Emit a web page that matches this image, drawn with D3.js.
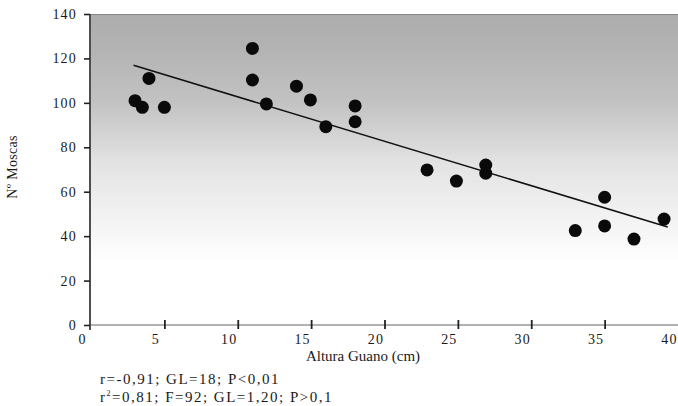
<!DOCTYPE html>
<html>
<head>
<meta charset="utf-8">
<script src="https://cdn.jsdelivr.net/npm/d3@7"></script>
<style>
  html, body { margin: 0; padding: 0; background: #fff; }
  svg { display: block; }
  text { font-family: "Liberation Serif", "DejaVu Serif", serif; fill: #1a1a1a; }
</style>
</head>
<body>
<svg id="chart" width="678" height="406"></svg>
<script>
// ---- data ----
const alturaGuano = [3.0, 3.5, 3.95, 5.0, 11.0, 11.0, 11.95, 14.0, 14.95, 16.0, 18.0, 18.0, 22.9, 24.9, 26.9, 26.9, 33.0, 35.0, 35.0, 37.0, 39.05];
const numMoscas   = [101, 98, 111, 98, 124.5, 110.3, 99.5, 107.5, 101.3, 89.3, 98.6, 91.5, 69.8, 64.8, 72, 68.3, 42.5, 57.5, 44.6, 38.7, 47.7];
const regLineX = [2.9, 39.3];
const regIntercept = 122.7;
const regSlope = -2.0;
const xTicks = [0, 5, 10, 15, 20, 25, 30, 35, 40];
const yTicks = [0, 20, 40, 60, 80, 100, 120, 140];
const xTitle = "Altura Guano (cm)";
const yTitle = "Nº Moscas";
const stats1 = "r=-0,91; GL=18; P<0,01";
const stats2 = ["r", "2", "=0,81; F=92; GL=1,20; P>0,1"];

// ---- layout ----
const svg = d3.select("#chart");
const mLeft = 91, mRight = 678, mTop = 14, mBottom = 325;
const x = d3.scaleLinear().domain([0, 40]).range([mLeft, mRight]);
const y = d3.scaleLinear().domain([0, 140]).range([mBottom, mTop]);

// background gradient
const defs = svg.append("defs");
const grad = defs.append("linearGradient").attr("id", "bg").attr("x1", 0).attr("y1", 0).attr("x2", 0).attr("y2", 1);
[[0, "#adadad"], [0.12, "#b4b4b4"], [0.28, "#c2c2c2"], [0.38, "#d2d2d2"], [0.48, "#e3e3e3"], [0.58, "#ececec"], [0.7, "#f6f6f6"], [0.8, "#ffffff"], [1, "#ffffff"]]
  .forEach(([o, c]) => grad.append("stop").attr("offset", o).attr("stop-color", c));
svg.append("rect").attr("x", mLeft).attr("y", mTop).attr("width", mRight - mLeft).attr("height", mBottom - mTop).attr("fill", "url(#bg)");
svg.append("line").attr("x1", mLeft).attr("x2", mRight).attr("y1", mTop + 0.5).attr("y2", mTop + 0.5).attr("stroke", "#888").attr("stroke-width", 1);

// y axis
const yAxis = d3.axisLeft(y).tickValues(yTicks).tickSize(6).tickPadding(7).tickFormat(d3.format("d"));
const gy = svg.append("g").attr("transform", `translate(${mLeft - 1},0)`).call(yAxis);
gy.select(".domain").attr("stroke", "#222").attr("stroke-width", 1.6).attr("d", `M0,${mTop}V${mBottom + 5}`);
gy.selectAll(".tick line").attr("stroke", "#222").attr("stroke-width", 1.6);
gy.selectAll(".tick text").attr("font-size", 14).attr("letter-spacing", 1.2)
  .attr("font-family", "Liberation Serif, serif").attr("fill", "#1a1a1a");

// x axis
const xAxis = d3.axisBottom(x).tickValues(xTicks).tickSize(5).tickPadding(4).tickFormat(d3.format("d"));
const gx = svg.append("g").attr("transform", `translate(0,${mBottom})`).call(xAxis);
gx.select(".domain").attr("stroke", "#666").attr("stroke-width", 1.2).attr("d", `M${mLeft},0H${mRight}`);
gx.selectAll(".tick line").attr("stroke", "#222").attr("stroke-width", 1.8).attr("y1", -5).attr("y2", 4);
gx.selectAll(".tick").filter(d => d === 0 || d === 40).select("line").remove();
gx.selectAll(".tick text").attr("font-size", 14).attr("letter-spacing", 1.2)
  .attr("font-family", "Liberation Serif, serif").attr("fill", "#1a1a1a").attr("dx", -9);

// regression line
svg.append("line")
  .attr("x1", x(regLineX[0])).attr("y1", y(regIntercept + regSlope * regLineX[0]))
  .attr("x2", x(regLineX[1])).attr("y2", y(regIntercept + regSlope * regLineX[1]))
  .attr("stroke", "#111").attr("stroke-width", 1.6);

// points
svg.append("g").selectAll("circle").data(alturaGuano.map((d, i) => [d, numMoscas[i]])).join("circle")
  .attr("cx", d => x(d[0])).attr("cy", d => y(d[1])).attr("r", 6.5).attr("fill", "#0a0a0a");

// titles
svg.append("text").attr("x", 363).attr("y", 361).attr("text-anchor", "middle").attr("font-size", 15).text(xTitle);
svg.append("text").attr("transform", "translate(17,167) rotate(-90)").attr("text-anchor", "middle")
  .attr("font-size", 14).attr("letter-spacing", 0.3).text(yTitle);

// stats
svg.append("text").attr("x", 100).attr("y", 384).attr("font-size", 15).attr("letter-spacing", 1.5).text(stats1);
const t2 = svg.append("text").attr("x", 100).attr("y", 402).attr("font-size", 15).attr("letter-spacing", 1.5);
t2.append("tspan").text(stats2[0]);
t2.append("tspan").attr("font-size", 8).attr("dy", -6).text(stats2[1]);
t2.append("tspan").attr("dy", 6).text(stats2[2]);
</script>
</body>
</html>
